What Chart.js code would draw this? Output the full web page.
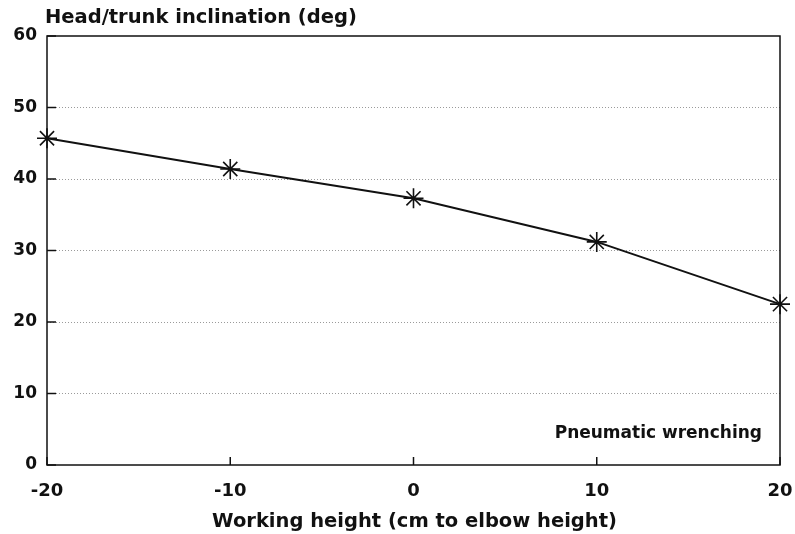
<!DOCTYPE html>
<html>
<head>
<meta charset="utf-8">
<script src="https://cdn.jsdelivr.net/npm/chart.js@4/dist/chart.umd.min.js"></script>
<style>
  html, body { margin: 0; padding: 0; background: #ffffff; }
  #wrap { width: 795px; height: 534px; position: relative; }
</style>
</head>
<body>
<div id="wrap"><canvas id="c" width="795" height="534"></canvas></div>
<script>
// ---- data ----
const workingHeight = [-20, -10, 0, 10, 20];
const inclination = [45.7, 41.4, 37.3, 31.2, 22.5];
const yTicks = [0, 10, 20, 30, 40, 50, 60];
const xTicks = [-20, -10, 0, 10, 20];
const yTitle = 'Head/trunk inclination (deg)';
const xTitle = 'Working height (cm to elbow height)';
const annotation = 'Pneumatic wrenching';

const FONT = "'DejaVu Sans', sans-serif";

const framePlugin = {
  id: 'frame',
  beforeDatasetsDraw(chart) {
    const { ctx, chartArea: a, scales } = chart;
    ctx.save();
    ctx.strokeStyle = '#111';
    ctx.lineWidth = 1.5;
    ctx.strokeRect(a.left, a.top, a.right - a.left, a.bottom - a.top);
    yTicks.forEach(v => {
      const y = scales.y.getPixelForValue(v);
      ctx.beginPath();
      ctx.moveTo(a.left, y);
      ctx.lineTo(a.left + 9, y);
      ctx.stroke();
    });
    xTicks.forEach(v => {
      const x = scales.x.getPixelForValue(v);
      ctx.beginPath();
      ctx.moveTo(x, a.bottom);
      ctx.lineTo(x, a.bottom - 8);
      ctx.stroke();
    });
    ctx.restore();
  },
  afterDraw(chart) {
    const { ctx, chartArea: a } = chart;
    ctx.save();
    ctx.fillStyle = '#111';
    ctx.textBaseline = 'alphabetic';
    ctx.font = "bold 19.5px " + FONT;
    ctx.textAlign = 'left';
    ctx.fillText(yTitle, a.left - 2, 23);
    ctx.textAlign = 'center';
    ctx.fillText(xTitle, (a.left + a.right) / 2 + 1, 527);
    ctx.font = "bold 17px " + FONT;
    ctx.textAlign = 'right';
    ctx.fillText(annotation, a.right - 18, 438);
    ctx.restore();
  }
};

new Chart(document.getElementById('c'), {
  type: 'line',
  data: {
    datasets: [{
      data: workingHeight.map((x, i) => ({ x: x, y: inclination[i] })),
      borderColor: '#111',
      borderWidth: 2,
      pointStyle: 'star',
      pointRadius: 10,
      pointBorderWidth: 1.6,
      pointBorderColor: '#111',
      pointBackgroundColor: '#111',
      tension: 0,
      clip: false
    }]
  },
  options: {
    responsive: false,
    animation: false,
    devicePixelRatio: 1,
    layout: { padding: { top: 36, right: 4, left: 0, bottom: 0 } },
    plugins: { legend: { display: false }, tooltip: { enabled: false }, title: { display: false } },
    scales: {
      x: {
        type: 'linear',
        min: -20, max: 20,
        afterFit(s) { s.height = 69; s.paddingRight = 15; s.paddingLeft = 0; },
        afterBuildTicks(s) { s.ticks = xTicks.map(v => ({ value: v })); },
        grid: { display: false, drawTicks: false },
        border: { display: false },
        ticks: { color: '#111', padding: 16, font: { family: FONT, size: 18, weight: 'bold' }, maxRotation: 0 }
      },
      y: {
        min: 0, max: 60,
        afterFit(s) { s.width = 47; },
        afterBuildTicks(s) { s.ticks = yTicks.map(v => ({ value: v })); },
        grid: {
          drawTicks: false,
          color: ctx => (ctx.tick && (ctx.tick.value === 0 || ctx.tick.value === 60)) ? 'rgba(0,0,0,0)' : '#9a9a9a',
          lineWidth: 1
        },
        border: { display: false, dash: [1, 2] },
        ticks: { color: '#111', padding: 10, font: { family: FONT, size: 17, weight: 'bold' } }
      }
    }
  },
  plugins: [framePlugin]
});
</script>
</body>
</html>
